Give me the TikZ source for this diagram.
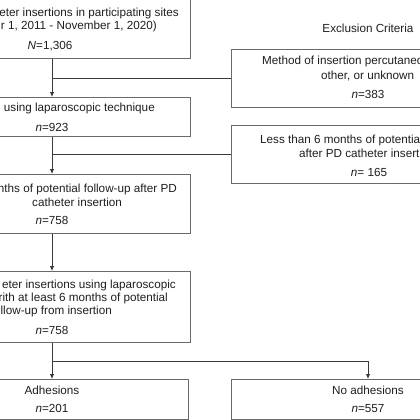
\documentclass[tikz,border=0pt]{standalone}
\usepackage{fontspec}
\setmainfont{Liberation Sans}
\usetikzlibrary{arrows.meta}
\definecolor{boxline}{HTML}{6A6A6A}
\definecolor{conline}{HTML}{3A3A3A}
\definecolor{txt}{HTML}{1E1E1E}
\tikzset{
  box/.style={draw=boxline, line width=0.9pt, rectangle, anchor=north west, inner sep=0pt},
  lbl/.style={text=txt, inner sep=0pt, anchor=base, font=\fontsize{11.7}{14}\selectfont},
  lblr/.style={lbl, anchor=base east},
  lbll/.style={lbl, anchor=base west},
  con/.style={draw=conline, line width=0.8pt},
  arr/.style={con, -{Latex[length=5pt,width=4.5pt]}}
}
\begin{document}
\begin{tikzpicture}[x=1pt,y=-1pt]
\useasboundingbox (0,0) rectangle (420,420);
\clip (0,0) rectangle (420,420);
% boxes
\node[box, minimum width=278pt, minimum height=68pt] (b1) at (-88,-10) {};
\node[box, minimum width=278pt, minimum height=39pt] (b2) at (-88,97) {};
\node[box, minimum width=278pt, minimum height=59pt] (b3) at (-88,174) {};
\node[box, minimum width=278pt, minimum height=71pt] (b4) at (-88,271) {};
\node[box, minimum width=276pt, minimum height=40pt] (ad) at (-88,379) {};
\node[box, minimum width=274pt, minimum height=58pt] (e1) at (231,49) {};
\node[box, minimum width=274pt, minimum height=58pt] (e2) at (231,125) {};
\node[box, minimum width=274pt, minimum height=40pt] (na) at (231,379) {};
% trunk
\coordinate (t) at (52,0);
\coordinate (nx) at (368,0);
% connectors
\draw[arr] (b1.south -| t) -- (b2.north -| t);
\draw[con] (e1.west -| t) -- (e1.west);
\draw[arr] (b2.south -| t) -- (b3.north -| t);
\draw[con] (e2.west -| t) -- (e2.west);
\draw[arr] (b3.south -| t) -- (b4.north -| t);
\coordinate (split) at (52,361);
\draw[arr] (b4.south -| t) -- (ad.north -| t);
\draw[arr] (split) -| (na.north -| nx);
% texts
\node[lblr] (t1a) at (179,17) {eter insertions in participating sites};
\node[lblr] (t1b) at (157,30) {r 1, 2011 - November 1, 2020)};
\node[lbl] (t1c) at (50,49) {\textit{N}=1,306};
\node[lbl] (ex) at (368,33) {Exclusion Criteria};
\node[lbll] (e1a) at (262,65) {Method of insertion percutaneous,};
\node[lbll] (e1b) at (321,79) {other, or unknown};
\node[lbl] (e1c) at (368,98) {\textit{n}=383};
\node[lblr] (t2a) at (155,111) {using laparoscopic technique};
\node[lbl] (t2b) at (52,131) {\textit{n}=923};
\node[lbll] (e2a) at (260,143) {Less than 6 months of potential};
\node[lbll] (e2b) at (299,157) {after PD catheter insertion};
\node[lbl] (e2c) at (369,176) {\textit{n}= 165};
\node[lblr] (t3a) at (177,192) {nths of potential follow-up after PD};
\node[lbll] (t3b) at (32,206) {catheter insertion};
\node[lbl] (t3c) at (52,224) {\textit{n}=758};
\node[lblr] (t4a) at (176,288) {eter insertions using laparoscopic};
\node[lblr] (t4b) at (168,301) {rith at least 6 months of potential};
\node[lblr] (t4c) at (112,314) {llow-up from insertion};
\node[lbl] (t4d) at (52,334) {\textit{n}=758};
\node[lbl] (ada) at (52,394) {Adhesions};
\node[lbl] (adb) at (52,412) {\textit{n}=201};
\node[lbl] (naa) at (368,394) {No adhesions};
\node[lbl] (nab) at (368,412) {\textit{n}=557};
\end{tikzpicture}
\end{document}
